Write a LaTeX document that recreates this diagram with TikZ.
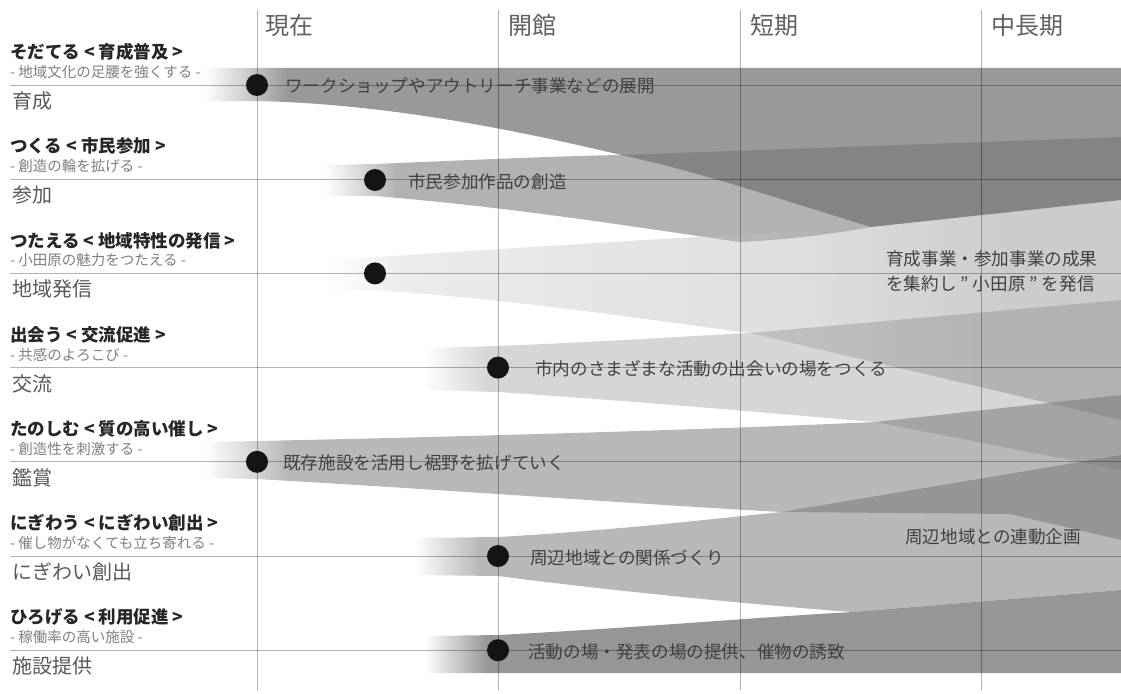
\documentclass[tikz,border=0pt]{standalone}
\usepackage{fontspec}
\setmainfont{Noto Sans CJK JP}
\pgfdeclarehorizontalshading{bandsh}{100bp}{color(0bp)=(white); color(25bp)=(white); color(29.5bp)=(black!55); color(100bp)=(black!55)}
\pgfdeclarehorizontalshading{bandshC}{100bp}{color(0bp)=(white); color(25bp)=(white); color(29.5bp)=(black!16); color(55bp)=(black!28); color(68bp)=(black!44); color(100bp)=(black!44)}
\begin{document}
\begin{tikzpicture}[x=1pt,y=-1pt,
  band/.style={shading=bandsh},
  bandc/.style={shading=bandshC},
  gline/.style={draw=black, draw opacity=0.3, line width=0.8pt},
  dot/.style={circle, fill=black!92, minimum size=22pt, inner sep=0pt},
  head/.style={anchor=west, inner sep=0pt, font=\fontsize{24}{24}\selectfont, text=black!62},
  ttl/.style={anchor=west, inner sep=0pt, font=\bfseries\fontsize{17.5}{18}\selectfont, text=black!85},
  sub/.style={anchor=west, inner sep=0pt, font=\fontsize{14.5}{15}\selectfont, text=black!50},
  lab/.style={anchor=west, inner sep=0pt, font=\fontsize{20}{20}\selectfont, text=black!65},
  btext/.style={anchor=west, inner sep=0pt, font=\fontsize{17.6}{25}\selectfont, text=black!75}]
\useasboundingbox (0,0) rectangle (1121,693);
\fill[white] (0,0) rectangle (1121,693);

% bands
\shade[band, fill opacity=0.72] (205,68) -- (1121,68) -- (1121,200) -- (871,227) .. controls (770,196) and (700,172) .. (621,155) .. controls (520,131) and (390,104) .. (257,101) -- (205,101) -- cycle;
\shade[band, fill opacity=0.55] (325,165) -- (375,164) .. controls (470,160) and (560,156) .. (621,155) -- (1121,137) -- (1121,200) -- (871,227) .. controls (820,236) and (780,240) .. (740,242) .. controls (640,228) and (520,208) .. (375,196) -- (325,196) -- cycle;
\shade[bandc, fill opacity=0.45] (330,258) -- (375,257) .. controls (520,248) and (700,236) .. (871,227) -- (1121,200) -- (1121,420) -- (750,333) .. controls (650,320) and (520,300) .. (375,290) -- (330,290) -- cycle;
\shade[band, fill opacity=0.29] (425,348) -- (498,346) .. controls (600,342) and (690,336) .. (750,333) -- (1121,300) -- (1121,470) -- (875,422) .. controls (800,416) and (700,406) .. (498,392) -- (425,390) -- cycle;
\shade[band, fill opacity=0.5] (205,442) -- (257,441) .. controls (450,437) and (700,430) .. (875,422) -- (1121,395) -- (1121,540) -- (1010,514) -- (782,512) .. controls (650,505) and (450,490) .. (257,479) -- (205,478) -- cycle;
\shade[band, fill opacity=0.5] (415,538) -- (498,537) .. controls (620,530) and (720,518) .. (782,512) -- (1121,455) -- (1121,590) -- (853,612) .. controls (780,607) and (620,592) .. (498,576) -- (415,575) -- cycle;
\shade[band, fill opacity=0.75] (425,636) -- (498,635) .. controls (650,627) and (760,617) .. (853,612) -- (1121,590) -- (1121,673) -- (425,673) -- cycle;

% grid
\foreach \yy in {85,179.2,273.4,367.6,461.8,556,650.2}
  \draw[gline] (10,\yy) -- (1121,\yy);
\foreach \xx in {257,498,740,981}
  \draw[gline] (\xx,10) -- (\xx,690);

% headers
\node[head] (h1) at (265,25) {現在};
\node[head] (h2) at (508,25) {開館};
\node[head] (h3) at (750,25) {短期};
\node[head] (h4) at (991,25) {中長期};

% left labels
\node[ttl] (t1) at (10,52) {そだてる < 育成普及 >};
\node[sub] (s1) at (10,72) {- 地域文化の足腰を強くする -};
\node[lab] (l1) at (12,101) {育成};
\node[ttl] (t2) at (10,146.2) {つくる < 市民参加 >};
\node[sub] (s2) at (10,166.2) {- 創造の輪を拡げる -};
\node[lab] (l2) at (12,195.2) {参加};
\node[ttl] (t3) at (10,240.4) {つたえる < 地域特性の発信 >};
\node[sub] (s3) at (10,260.4) {- 小田原の魅力をつたえる -};
\node[lab] (l3) at (12,289.4) {地域発信};
\node[ttl] (t4) at (10,334.6) {出会う < 交流促進 >};
\node[sub] (s4) at (10,354.6) {- 共感のよろこび -};
\node[lab] (l4) at (12,383.6) {交流};
\node[ttl] (t5) at (10,428.8) {たのしむ < 質の高い催し >};
\node[sub] (s5) at (10,448.8) {- 創造性を刺激する -};
\node[lab] (l5) at (12,477.8) {鑑賞};
\node[ttl] (t6) at (10,523) {にぎわう < にぎわい創出 >};
\node[sub] (s6) at (10,543) {- 催し物がなくても立ち寄れる -};
\node[lab] (l6) at (12,572) {にぎわい創出};
\node[ttl] (t7) at (10,617.2) {ひろげる < 利用促進 >};
\node[sub] (s7) at (10,637.2) {- 稼働率の高い施設 -};
\node[lab] (l7) at (12,666.2) {施設提供};

% dots
\node[dot] (d1) at (257,85) {};
\node[dot] (d2) at (375,180) {};
\node[dot] (d3) at (375,273.4) {};
\node[dot] (d4) at (498,367.6) {};
\node[dot] (d5) at (257,461.8) {};
\node[dot] (d6) at (498,556) {};
\node[dot] (d7) at (498,650.2) {};

% band texts
\node[btext] (b1) at (285,86) {ワークショップやアウトリーチ事業などの展開};
\node[btext] (b2) at (408,182) {市民参加作品の創造};
\node[btext] (b4) at (535,368.6) {市内のさまざまな活動の出会いの場をつくる};
\node[btext] (b5) at (283,463) {既存施設を活用し裾野を拡げていく};
\node[btext] (b6) at (530,558) {周辺地域との関係づくり};
\node[btext] (b7) at (528,651.5) {活動の場・発表の場の提供、催物の誘致};
\node[btext, align=left] (b3) at (886,271) {育成事業・参加事業の成果\\を集約し " 小田原 " を発信};
\node[btext] (b8) at (905,537) {周辺地域との連動企画};
\end{tikzpicture}
\end{document}
